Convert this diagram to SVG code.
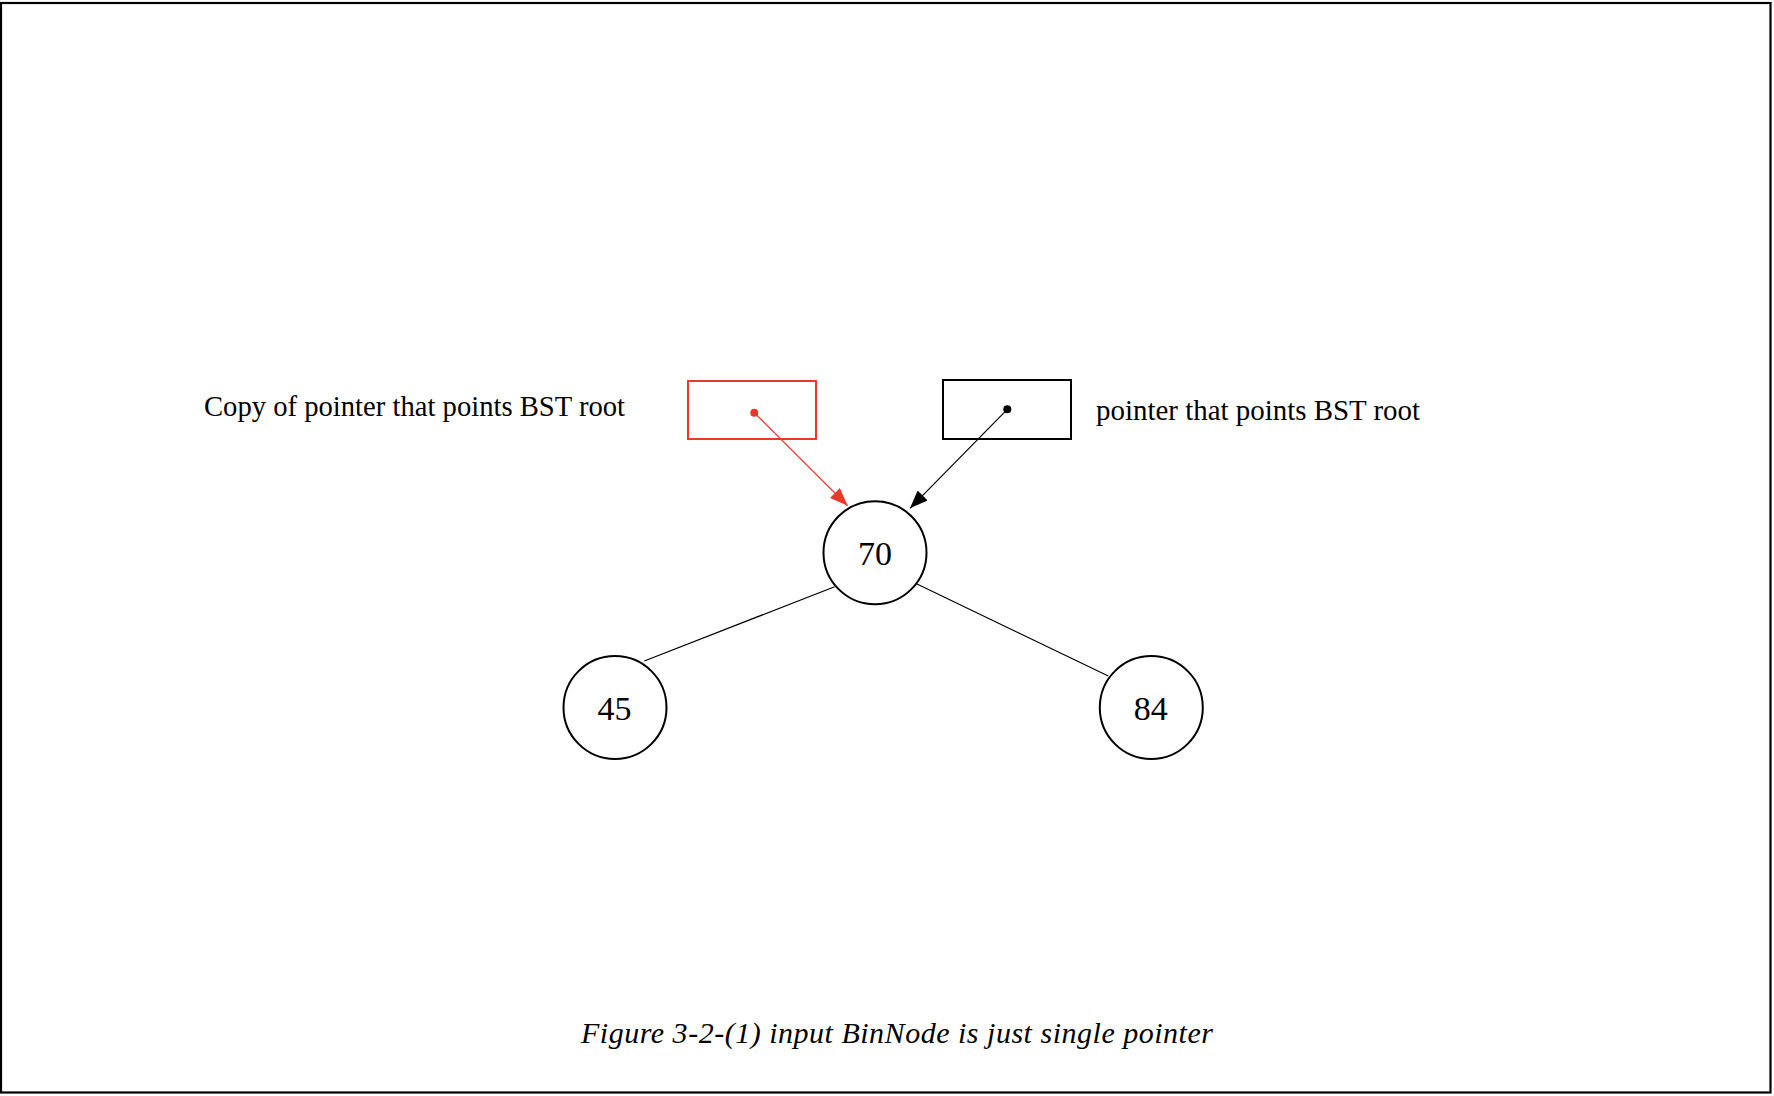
<svg xmlns="http://www.w3.org/2000/svg" width="1774" height="1096" viewBox="0 0 1774 1096">
<style>
.lbl{font-family:"Liberation Serif","Times New Roman",serif;font-size:29px;fill:#000}
.num{font-family:"Liberation Serif","Times New Roman",serif;font-size:34px;fill:#000;text-anchor:middle}
.cap{font-family:"Liberation Serif","Times New Roman",serif;font-size:30px;font-style:italic;fill:#000}
.node{fill:#fff;stroke:#000;stroke-width:2}
.edge{stroke:#000;stroke-width:1.2;fill:none}
</style>
<defs>
<marker id="ahRed" viewBox="0 0 18 14" refX="18" refY="7" markerWidth="18" markerHeight="14" markerUnits="userSpaceOnUse" orient="auto">
<path d="M0,0 L18,7 L0,14 z" fill="#e8392a"/>
</marker>
<marker id="ahBlack" viewBox="0 0 18 14" refX="18" refY="7" markerWidth="18" markerHeight="14" markerUnits="userSpaceOnUse" orient="auto">
<path d="M0,0 L18,7 L0,14 z" fill="#000"/>
</marker>
</defs>
<rect x="0" y="0" width="1774" height="1096" fill="#fff"/>
<rect x="1" y="3" width="1769.5" height="1089.5" fill="none" stroke="#000" stroke-width="2.2"/>

<g id="connectors">
<line x1="834.6" y1="586.7" x2="644.3" y2="661" class="edge"/>
<line x1="917" y1="584" x2="1108.3" y2="676" class="edge"/>
<line x1="754.3" y1="412.7" x2="847.7" y2="505.7" stroke="#e8392a" stroke-width="1.2" marker-end="url(#ahRed)"/>
<line x1="1007.3" y1="409.3" x2="910" y2="508.3" stroke="#000" stroke-width="1.2" marker-end="url(#ahBlack)"/>
</g>

<g id="copy-pointer">
<rect x="688" y="381" width="128" height="58" fill="none" stroke="#e8392a" stroke-width="2"/>
<circle cx="754.3" cy="412.7" r="4" fill="#e8392a"/>
</g>
<g id="root-pointer">
<rect x="943" y="380" width="128" height="59" fill="none" stroke="#000" stroke-width="2"/>
<circle cx="1007.3" cy="409.3" r="4" fill="#000"/>
</g>

<g id="label-copy"><text class="lbl" x="204" y="416" textLength="421" lengthAdjust="spacingAndGlyphs">Copy of pointer that points BST root</text></g>
<g id="label-root"><text class="lbl" x="1096" y="420" textLength="324" lengthAdjust="spacingAndGlyphs">pointer that points BST root</text></g>

<g id="node-70">
<circle cx="875" cy="552.7" r="51.5" class="node"/>
<text class="num" x="875" y="565">70</text>
</g>
<g id="node-45">
<circle cx="615" cy="707.5" r="51.5" class="node"/>
<text class="num" x="614.5" y="720">45</text>
</g>
<g id="node-84">
<circle cx="1151.3" cy="707.5" r="51.5" class="node"/>
<text class="num" x="1150.8" y="720">84</text>
</g>

<g id="caption"><text class="cap" x="581" y="1043" textLength="632" lengthAdjust="spacing">Figure 3-2-(1) input BinNode is just single pointer</text></g>
</svg>
